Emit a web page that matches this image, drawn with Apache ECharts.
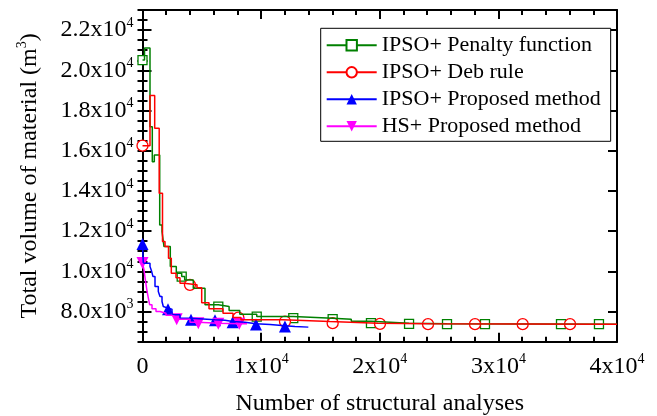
<!DOCTYPE html>
<html><head><meta charset="utf-8">
<script src="https://cdn.jsdelivr.net/npm/echarts@6/dist/echarts.min.js"></script>
<style>html,body{margin:0;padding:0;background:#fff}#c{width:657px;height:416px}</style>
</head><body><div id="c"></div>
<script>
// ---- data ----
const seriesNames = ['IPSO+ Penalty function', 'IPSO+ Deb rule', 'IPSO+ Proposed method', 'HS+ Proposed method'];
const xTicks = [0, 10000, 20000, 30000, 40000];
const yTicks = [8000, 10000, 12000, 14000, 16000, 18000, 20000, 22000];

const penaltyCurve = [[0,20510],[170,21106],[632,17195],[826,15455],[995,15788],[1450,12310],[1644,11976],[1812,11230],[2343,10237],[2850,9908],[3305,9740],[3557,9575],[4282,9163],[5269,8333],[6390,8249],[7300,8050],[8200,7870],[9630,7750],[12710,7672],[16030,7622],[17600,7520],[19260,7423],[22470,7390],[25670,7374],[40000,7374]];
const penaltyMarks = [[0,20510],[3305,9740],[6390,8249],[9630,7750],[12710,7672],[16030,7622],[19260,7423],[22470,7390],[25670,7374],[28870,7374],[35280,7374],[38480,7374]];

const debCurve = [[0,16250],[632,18745],[1028,17115],[1408,13885],[1686,11480],[1897,11230],[2192,10655],[2428,9910],[2824,9675],[3161,9410],[3498,9327],[4594,9178],[4990,8432],[5606,8134],[6786,7920],[7630,7700],[8300,7588],[11840,7503],[15800,7423],[19850,7390],[24240,7374],[40000,7374]];
const debMarks = [[0,16250],[4000,9327],[8080,7700],[12010,7503],[16030,7423],[20020,7390],[24070,7374],[28030,7374],[32050,7374],[36040,7374]];

const ipsoCurve = [[0,11365],[67,10405],[632,10237],[776,9988],[885,9740],[1054,9243],[1332,8994],[1475,8745],[1644,8497],[1753,8249],[1897,8169],[2150,8119],[2487,7836],[3161,7672],[4090,7588],[6110,7563],[6955,7503],[7600,7473],[8640,7390],[9570,7354],[10750,7289],[12010,7255],[12850,7225],[13980,7225]];
const ipsoMarks = [[0,11365],[2150,8119],[4090,7588],[6110,7563],[7600,7473],[9570,7354],[12010,7255]];

const hsCurve = [[0,10420],[126,10070],[253,9525],[379,9030],[489,8680],[607,8333],[801,8134],[1138,8000],[1475,7920],[1981,7810],[2487,7722],[2883,7612],[4004,7473],[4704,7423],[6390,7390],[8160,7390],[8810,7390]];
const hsMarks = [[0,10420],[2883,7612],[4704,7423],[6390,7390],[8160,7390]];

// ---- styling ----
const FONT = '"Liberation Serif","Times New Roman",serif';
const GREEN = '#008000', RED = '#ff0000', BLUE = '#0000ff', MAG = '#ff00ff';
const richLbl = {
  b: {fontSize: 24, fontFamily: FONT, color: '#000', lineHeight: 28},
  s: {fontSize: 14, fontFamily: FONT, color: '#000', lineHeight: 14, verticalAlign: 'top'}
};
function fmtY(v) {
  if (v < 10000) return '{b|' + (v / 1000).toFixed(1) + 'x10}{s|3}';
  return '{b|' + (v / 10000).toFixed(1) + 'x10}{s|4}';
}
function fmtX(v) {
  if (v === 0) return '{b|0}';
  return '{b|' + (v / 10000) + 'x10}{s|4}';
}
const axLine = {show: true, onZero: false, lineStyle: {color: '#000', width: 2}};
const tickStyle = {color: '#000', width: 2};
const YMIN = 6500, YMAX = 23000;

function xAx(pos, labels) {
  const a = {
    type: 'value', position: pos, min: 0, max: 40000, interval: 10000,
    axisLine: axLine, splitLine: {show: false},
    axisTick: {show: true, inside: true, length: 9, lineStyle: tickStyle},
    minorTick: {show: true, splitNumber: 5, length: 5, lineStyle: tickStyle},
    axisLabel: {show: labels, margin: 11, formatter: fmtX, rich: richLbl}
  };
  if (labels) {
    a.name = 'Number of structural analyses';
    a.nameLocation = 'middle';
    a.nameGap = 50;
    a.nameTextStyle = {fontSize: 24, fontFamily: FONT, color: '#000'};
  }
  return a;
}
function yMajor(pos, labels) {
  const a = {
    type: 'value', position: pos, min: YMIN, max: YMAX,
    axisLine: axLine, splitLine: {show: false},
    axisTick: {show: true, inside: true, length: 9, lineStyle: tickStyle, customValues: yTicks},
    axisLabel: {show: labels, margin: 9, customValues: yTicks, formatter: fmtY, rich: richLbl}
  };
  if (labels) {
    a.name = '{b|Total volume of material (m}{s|3}{b|)}';
    a.nameLocation = 'middle';
    a.nameGap = 99;
    a.nameRotate = 90;
    a.nameTextStyle = {fontSize: 24, fontFamily: FONT, color: '#000', rich: richLbl};
  }
  return a;
}
function yMinor(pos) {
  return {
    type: 'value', position: pos, min: YMIN, max: YMAX, interval: 500,
    axisLine: {show: false}, splitLine: {show: false},
    axisTick: {show: true, inside: true, length: 5, lineStyle: tickStyle},
    axisLabel: {show: false}
  };
}

function lineSeries(name, data, color, symbol, rotate) {
  return {
    name: name, type: 'line', step: 'end', data: data, showSymbol: false,
    symbol: symbol, symbolRotate: rotate || 0, symbolSize: 10,
    lineStyle: {color: color, width: 1.5},
    itemStyle: {color: color},
    silent: true, animation: false
  };
}
function markSeries(data, color, symbol, size, rotate, hollow) {
  return {
    name: '_m', type: 'scatter', data: data, symbol: symbol, symbolSize: size, symbolRotate: rotate || 0,
    itemStyle: hollow ? {color: '#fff', borderColor: color, borderWidth: 1.3, opacity: 1} : {color: color, opacity: 1},
    silent: true, animation: false
  };
}

const chart = echarts.init(document.getElementById('c'));
chart.setOption({
  backgroundColor: '#fff',
  animation: false,
  grid: {left: 142.5, right: 40, top: 10, bottom: 74.3, containLabel: false, outerBoundsMode: 'none'},
  xAxis: [xAx('bottom', true), xAx('top', false)],
  yAxis: [yMajor('left', true), yMinor('left'), yMajor('right', false), yMinor('right')],
  legend: {
    data: seriesNames, orient: 'vertical', left: 320.7, top: 28.3,
    itemWidth: 50, itemHeight: 13, itemGap: 5,
    padding: [6, 10, 4, 5], borderColor: '#000', borderWidth: 1, backgroundColor: '#fff',
    textStyle: {fontSize: 22, fontFamily: FONT, color: '#000'},
    selectedMode: false
  },
  series: [
    lineSeries(seriesNames[0], penaltyCurve, GREEN, 'emptyRect'),
    markSeries(penaltyMarks, GREEN, 'rect', 9, 0, true),
    lineSeries(seriesNames[1], debCurve, RED, 'emptyCircle'),
    markSeries(debMarks, RED, 'circle', 11, 0, true),
    lineSeries(seriesNames[2], ipsoCurve, BLUE, 'triangle'),
    markSeries(ipsoMarks, BLUE, 'triangle', 12, 0, false),
    lineSeries(seriesNames[3], hsCurve, MAG, 'triangle', 180),
    markSeries(hsMarks, MAG, 'triangle', 12, 180, false)
  ]
});
</script>
</body></html>
